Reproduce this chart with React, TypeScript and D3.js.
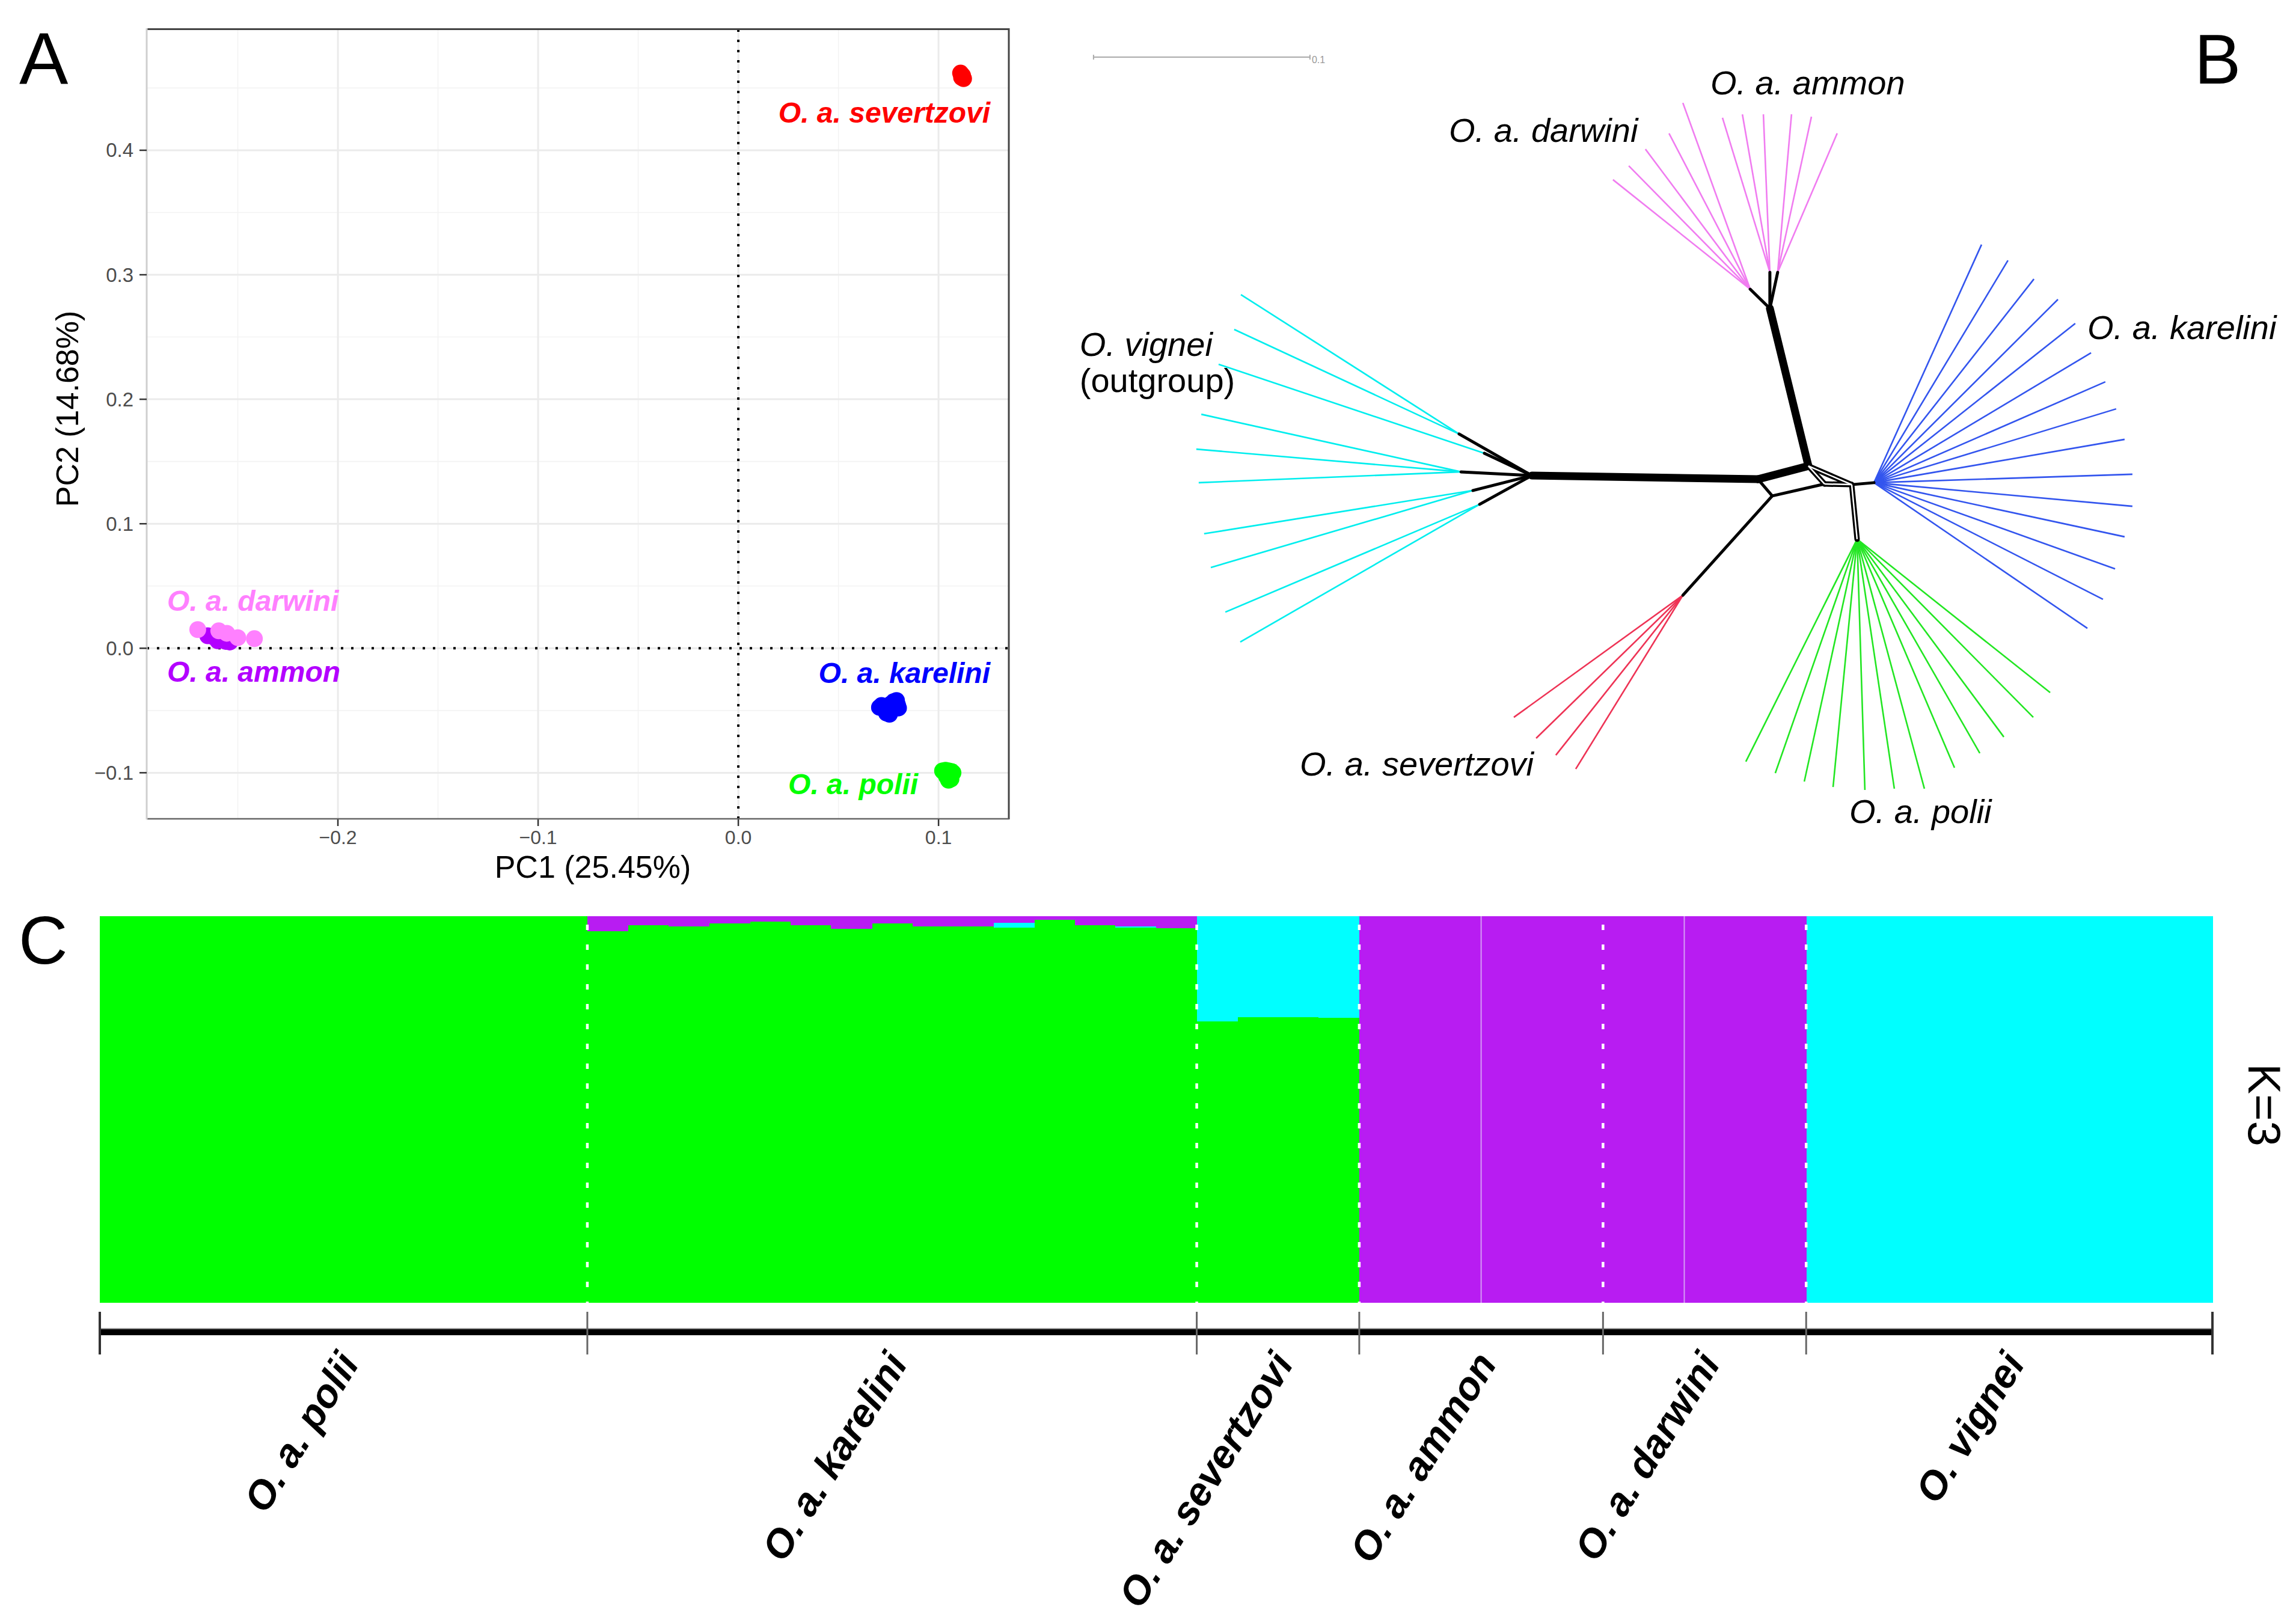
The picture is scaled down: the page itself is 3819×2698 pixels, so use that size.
import React from 'react';
import * as d3 from 'd3';

const W = 3819;
const H = 2698;
const SANS = '"Liberation Sans", Arial, Helvetica, sans-serif';

// ---------- Panel A: PCA ----------
const pc1Ticks = [-0.2, -0.1, 0.0, 0.1];
const pc2Ticks = [-0.1, 0.0, 0.1, 0.2, 0.3, 0.4];
const pc1Minor = [-0.25, -0.15, -0.05, 0.05];
const pc2Minor = [-0.05, 0.05, 0.15, 0.25, 0.35, 0.45];

const severtzoviPCA = [[0.1110, 0.4620], [0.1120, 0.4600], [0.1125, 0.4575], [0.1115, 0.4585]];
const kareliniPCA = [
  [0.0705, -0.0475], [0.0715, -0.0460], [0.0730, -0.0490], [0.0745, -0.0470], [0.0750, -0.0505],
  [0.0760, -0.0450], [0.0765, -0.0485], [0.0775, -0.0430], [0.0780, -0.0465], [0.0790, -0.0420],
  [0.0795, -0.0455], [0.0800, -0.0480], [0.0740, -0.0520], [0.0755, -0.0530], [0.0785, -0.0440],
];
const poliiPCA = [
  [0.1020, -0.0985], [0.1035, -0.0980], [0.1050, -0.0985], [0.1065, -0.0990], [0.1072, -0.1000],
  [0.1030, -0.1000], [0.1045, -0.1005], [0.1060, -0.1010], [0.1040, -0.1030], [0.1055, -0.1040],
  [0.1050, -0.1060], [0.1062, -0.1050],
];
const ammonPCA = [[-0.265, 0.0100], [-0.262, 0.0090], [-0.259, 0.0070], [-0.256, 0.0055], [-0.254, 0.0050], [-0.260, 0.0060]];
const darwiniPCA = [[-0.2595, 0.0140], [-0.2555, 0.0120], [-0.2417, 0.0077], [-0.2500, 0.0085], [-0.2700, 0.0150]];

const pcaColors: Record<string, string> = {
  severtzovi: '#FF0000',
  karelini: '#0000FF',
  polii: '#00FF00',
  ammon: '#B300FF',
  darwini: '#FF80FF',
};

// label anchor in PC units
const pcaLabels = [
  { key: 'severtzovi', text: 'O. a. severtzovi', pc1: 0.1258, pc2: 0.4222, anchor: 'end' },
  { key: 'karelini', text: 'O. a. karelini', pc1: 0.1258, pc2: -0.0280, anchor: 'end' },
  { key: 'polii', text: 'O. a. polii', pc1: 0.0898, pc2: -0.1174, anchor: 'end' },
  { key: 'darwini', text: 'O. a. darwini', pc1: -0.2853, pc2: 0.0300, anchor: 'start' },
  { key: 'ammon', text: 'O. a. ammon', pc1: -0.2853, pc2: -0.0270, anchor: 'start' },
];

// ---------- Panel B: splits network (tree units, 0.1 = scale bar) ----------
const netNodes: [string, number, number][] = [
  ['VH', -0.1367, -0.0025], ['B', -0.0322, -0.0008], ['C', -0.0089, -0.0069],
  ['D', -0.0256, 0.0069], ['E', -0.0014, 0.0014], ['F', 0.0111, 0.0017],
  ['H', 0.0214, 0.0008], ['I', 0.0136, 0.0269], ['J', -0.0669, 0.0528],
  ['K', -0.0267, -0.0797], ['DH', -0.0358, -0.0886], ['AH1', -0.0267, -0.0964], ['AH2', -0.0231, -0.0964],
  ['V1', -0.1703, -0.0217], ['V2', -0.1586, -0.0128], ['V3', -0.1694, -0.0042],
  ['V4', -0.1639, 0.0044], ['V5', -0.1608, 0.0108],
];
const thickEdges = [['VH', 'B'], ['B', 'C'], ['C', 'K']];
const singleEdges = [
  ['B', 'D'], ['D', 'E'], ['F', 'H'], ['D', 'J'], ['K', 'DH'], ['K', 'AH1'], ['K', 'AH2'],
  ['VH', 'V1'], ['VH', 'V2'], ['VH', 'V3'], ['VH', 'V4'], ['VH', 'V5'],
];
const doubleEdges = [['C', 'E'], ['C', 'F'], ['E', 'F'], ['F', 'I']];

const vigneiTips: [string, number, number][] = [
  ['V1', -0.2711, -0.0861], ['V1', -0.2742, -0.0700], ['V2', -0.2814, -0.0539],
  ['V3', -0.2894, -0.0308], ['V3', -0.2917, -0.0147], ['V3', -0.2906, 0.0008],
  ['V4', -0.2881, 0.0244], ['V4', -0.2850, 0.0400], ['V5', -0.2783, 0.0606], ['V5', -0.2714, 0.0744],
];
const darwiniTips: [string, number, number][] = [
  ['DH', -0.0992, -0.1392], ['DH', -0.0919, -0.1456], ['DH', -0.0842, -0.1533],
  ['DH', -0.0733, -0.1606], ['DH', -0.0669, -0.1747],
];
const ammonTips: [string, number, number][] = [
  ['AH1', -0.0486, -0.1678], ['AH1', -0.0394, -0.1694], ['AH1', -0.0297, -0.1694],
  ['AH2', -0.0167, -0.1694], ['AH2', -0.0075, -0.1683], ['AH2', 0.0044, -0.1606],
];
const kareliniTips: [string, number, number][] = [
  ['H', 0.0711, -0.1092], ['H', 0.0833, -0.1019], ['H', 0.0953, -0.0933], ['H', 0.1064, -0.0839],
  ['H', 0.1144, -0.0728], ['H', 0.1217, -0.0592], ['H', 0.1283, -0.0458], ['H', 0.1333, -0.0333],
  ['H', 0.1372, -0.0192], ['H', 0.1408, -0.0031], ['H', 0.1408, 0.0117], ['H', 0.1372, 0.0258],
  ['H', 0.1328, 0.0406], ['H', 0.1272, 0.0547], ['H', 0.1200, 0.0681],
];
const poliiTips: [string, number, number][] = [
  ['I', -0.0378, 0.1297], ['I', -0.0242, 0.1350], ['I', -0.0108, 0.1389], ['I', 0.0025, 0.1414],
  ['I', 0.0172, 0.1428], ['I', 0.0308, 0.1422], ['I', 0.0447, 0.1422], ['I', 0.0586, 0.1325],
  ['I', 0.0703, 0.1258], ['I', 0.0814, 0.1183], ['I', 0.0950, 0.1092], ['I', 0.1028, 0.0978],
];
const severtzoviTips: [string, number, number][] = [
  ['J', -0.1450, 0.1092], ['J', -0.1347, 0.1189], ['J', -0.1256, 0.1267], ['J', -0.1164, 0.1331],
];

const netLabels = [
  { text: 'O. a. ammon', u: -0.0542, v: -0.1786, italic: true },
  { text: 'O. a. darwini', u: -0.1750, v: -0.1567, italic: true },
  { text: 'O. vignei', u: -0.3456, v: -0.0578, italic: true },
  { text: '(outgroup)', u: -0.3456, v: -0.0411, italic: false },
  { text: 'O. a. karelini', u: 0.1200, v: -0.0656, italic: true },
  { text: 'O. a. severtzovi', u: -0.2439, v: 0.1361, italic: true },
  { text: 'O. a. polii', u: 0.0100, v: 0.1581, italic: true },
];
const scaleBar = { u0: -0.3392, length: 0.1, v: -0.1958, label: '0.1' };

// ---------- Panel C: admixture K=3 ----------
const admixGroups = ['O. a. polii', 'O. a. karelini', 'O. a. severtzovi', 'O. a. ammon', 'O. a. darwini', 'O. vignei'];
const admixGroupSizes = [12, 15, 4, 6, 5, 10];
const qGreen = [
  1, 1, 1, 1, 1, 1, 1, 1, 1, 1, 1, 1,
  0.961, 0.977, 0.973, 0.982, 0.986, 0.977, 0.968, 0.982, 0.973, 0.973, 0.970, 0.990, 0.977, 0.971, 0.969,
  0.728, 0.739, 0.739, 0.737,
  0, 0, 0, 0, 0, 0,
  0, 0, 0, 0, 0,
  0, 0, 0, 0, 0, 0, 0, 0, 0, 0,
];
const qCyan = [
  0, 0, 0, 0, 0, 0, 0, 0, 0, 0, 0, 0,
  0, 0, 0, 0, 0, 0, 0, 0, 0, 0, 0.013, 0, 0, 0.003, 0,
  0.272, 0.261, 0.261, 0.263,
  0, 0, 0, 0, 0, 0,
  0, 0, 0, 0, 0,
  1, 1, 1, 1, 1, 1, 1, 1, 1, 1,
];
const qPurple = [
  0, 0, 0, 0, 0, 0, 0, 0, 0, 0, 0, 0,
  0.039, 0.023, 0.027, 0.018, 0.014, 0.023, 0.032, 0.018, 0.027, 0.027, 0.017, 0.010, 0.023, 0.026, 0.031,
  0, 0, 0, 0,
  1, 1, 1, 1, 1, 1,
  1, 1, 1, 1, 1,
  0, 0, 0, 0, 0, 0, 0, 0, 0, 0,
];
const faintSeparators = [34, 39];
const clusterColors: Record<string, string> = { green: '#00FF00', cyan: '#00FFFF', purple: '#B81CF2' };

export default function App() {
  // ---- A scales
  const xA = d3.scaleLinear().domain([-0.2955, 0.1351]).range([244, 1678]);
  const yA = d3.scaleLinear().domain([-0.137, 0.498]).range([1362, 47]);
  const fmt = d3.format('.1f');

  const pcaSets: [string, number[][]][] = [
    ['ammon', ammonPCA], ['darwini', darwiniPCA], ['severtzovi', severtzoviPCA],
    ['karelini', kareliniPCA], ['polii', poliiPCA],
  ];

  // ---- B scales
  const tu = d3.scaleLinear().domain([0, 0.1]).range([3040, 3400]);
  const tv = d3.scaleLinear().domain([0, 0.1]).range([800, 1160]);
  const node = new Map(netNodes.map(([id, u, v]) => [id, [u, v]]));
  const nx = (id: string) => tu(node.get(id)![0]);
  const ny = (id: string) => tv(node.get(id)![1]);
  const tipSets: [string, [string, number, number][]][] = [
    ['#00EEEE', vigneiTips], ['#F07CF0', darwiniTips], ['#F07CF0', ammonTips],
    ['#3355EE', kareliniTips], ['#22E622', poliiTips], ['#EE3355', severtzoviTips],
  ];

  // ---- C scales
  const nSamples = qGreen.length;
  const xC = d3.scaleBand<number>().domain(d3.range(nSamples)).range([166, 3680]).padding(0);
  const yC = d3.scaleLinear().domain([0, 1]).range([2167, 1524]);
  const rows = d3.range(nSamples).map(i => ({ green: qGreen[i], cyan: qCyan[i], purple: qPurple[i] }));
  const stacked = d3.stack<any>().keys(['green', 'cyan', 'purple'])(rows);
  const groupStarts = admixGroupSizes.map((_, i) => d3.sum(admixGroupSizes.slice(0, i)));
  const bw = xC.bandwidth();
  const boundaryX = (idx: number) => (idx >= nSamples ? xC.range()[1] : xC(idx)!);
  const axisY = 2216;

  return (
    <div style={{ position: 'absolute', left: 0, top: 0, width: W, height: H, background: '#fff' }}>
      <svg width={W} height={H} style={{ display: 'block' }} fontFamily={SANS}>
        <rect width={W} height={H} fill="#fff" />

        {/* ===== Panel A ===== */}
        <text x={32} y={140} fontSize={122}>A</text>
        <g>
          {pc1Minor.map(t => <line key={'xm' + t} x1={xA(t)} x2={xA(t)} y1={47} y2={1362} stroke="#F3F3F3" strokeWidth={1.6} />)}
          {pc2Minor.filter(t => t < 0.498).map(t => <line key={'ym' + t} x1={244} x2={1678} y1={yA(t)} y2={yA(t)} stroke="#F3F3F3" strokeWidth={1.6} />)}
          {pc1Ticks.map(t => <line key={'xg' + t} x1={xA(t)} x2={xA(t)} y1={47} y2={1362} stroke="#EBEBEB" strokeWidth={3} />)}
          {pc2Ticks.map(t => <line key={'yg' + t} x1={244} x2={1678} y1={yA(t)} y2={yA(t)} stroke="#EBEBEB" strokeWidth={3} />)}
          <line x1={xA(0)} x2={xA(0)} y1={49} y2={1362} stroke="#000" strokeWidth={4} strokeDasharray="4 13" />
          <line x1={244} x2={1678} y1={yA(0)} y2={yA(0)} stroke="#000" strokeWidth={4} strokeDasharray="4 13" />
          {pcaSets.map(([key, pts]) =>
            pts.map((p, i) => <circle key={key + i} cx={xA(p[0])} cy={yA(p[1])} r={14} fill={pcaColors[key]} />)
          )}
          {pcaLabels.map(l => (
            <text key={l.key} x={xA(l.pc1)} y={yA(l.pc2)} textAnchor={l.anchor as any} fill={pcaColors[l.key]}
              fontSize={48} fontWeight="bold" fontStyle="italic">{l.text}</text>
          ))}
          <line x1={244} x2={1678} y1={48.5} y2={48.5} stroke="#444" strokeWidth={3} />
          <line x1={1678} x2={1678} y1={47} y2={1363} stroke="#444" strokeWidth={3} />
          <line x1={244} x2={1678} y1={1362} y2={1362} stroke="#666" strokeWidth={2.5} />
          <line x1={244} x2={244} y1={47} y2={1363} stroke="#CFCFCF" strokeWidth={3} />
          {pc1Ticks.map(t => (
            <g key={'xt' + t}>
              <line x1={xA(t)} x2={xA(t)} y1={1363} y2={1374} stroke="#333" strokeWidth={2.5} />
              <text x={xA(t)} y={1404} textAnchor="middle" fontSize={32} fill="#4D4D4D">{fmt(t)}</text>
            </g>
          ))}
          {pc2Ticks.map(t => (
            <g key={'yt' + t}>
              <line x1={232} x2={244} y1={yA(t)} y2={yA(t)} stroke="#333" strokeWidth={2.5} />
              <text x={222} y={yA(t)} dy="0.35em" textAnchor="end" fontSize={33} fill="#4D4D4D">{fmt(t)}</text>
            </g>
          ))}
          <text x={986} y={1460} textAnchor="middle" fontSize={52}>PC1 (25.45%)</text>
          <text transform="translate(130,680) rotate(-90)" textAnchor="middle" fontSize={52}>PC2 (14.68%)</text>
        </g>

        {/* ===== Panel B ===== */}
        <text x={3650} y={139} fontSize={116}>B</text>
        <g>
          <line x1={tu(scaleBar.u0)} x2={tu(scaleBar.u0 + scaleBar.length)} y1={tv(scaleBar.v)} y2={tv(scaleBar.v)} stroke="#AAA" strokeWidth={2} />
          <line x1={tu(scaleBar.u0)} x2={tu(scaleBar.u0)} y1={tv(scaleBar.v) - 4} y2={tv(scaleBar.v) + 4} stroke="#AAA" strokeWidth={2} />
          <line x1={tu(scaleBar.u0 + scaleBar.length)} x2={tu(scaleBar.u0 + scaleBar.length)} y1={tv(scaleBar.v) - 4} y2={tv(scaleBar.v) + 4} stroke="#AAA" strokeWidth={2} />
          <text x={tu(scaleBar.u0 + scaleBar.length) + 3} y={tv(scaleBar.v) + 10} fontSize={16} fill="#999">{scaleBar.label}</text>

          {tipSets.map(([color, tips], si) =>
            tips.map(([hub, u, v], i) => (
              <line key={si + '-' + i} x1={nx(hub)} y1={ny(hub)} x2={tu(u)} y2={tv(v)} stroke={color} strokeWidth={2.6} />
            ))
          )}
          {thickEdges.map(([a, b]) => (
            <line key={a + b} x1={nx(a)} y1={ny(a)} x2={nx(b)} y2={ny(b)} stroke="#000" strokeWidth={13} strokeLinecap="round" />
          ))}
          {singleEdges.map(([a, b]) => (
            <line key={a + b} x1={nx(a)} y1={ny(a)} x2={nx(b)} y2={ny(b)} stroke="#000" strokeWidth={5} strokeLinecap="round" />
          ))}
          {doubleEdges.map(([a, b]) => (
            <line key={'o' + a + b} x1={nx(a)} y1={ny(a)} x2={nx(b)} y2={ny(b)} stroke="#000" strokeWidth={9} strokeLinecap="round" />
          ))}
          {doubleEdges.map(([a, b]) => (
            <line key={'i' + a + b} x1={nx(a)} y1={ny(a)} x2={nx(b)} y2={ny(b)} stroke="#fff" strokeWidth={2.5} />
          ))}
          {netLabels.map(l => (
            <text key={l.text} x={tu(l.u)} y={tv(l.v)} fontSize={56} fontStyle={l.italic ? 'italic' : 'normal'}>{l.text}</text>
          ))}
        </g>

        {/* ===== Panel C ===== */}
        <text x={31} y={1603} fontSize={113}>C</text>
        <g>
          {stacked.map(layer => (
            <g key={layer.key} fill={clusterColors[layer.key]}>
              {layer.map((d, i) => (
                d[1] - d[0] > 0 ? (
                  <rect key={i} x={xC(i)!} y={yC(d[1])} width={bw + 0.6} height={yC(d[0]) - yC(d[1])} shapeRendering="crispEdges" />
                ) : null
              ))}
            </g>
          ))}
          {faintSeparators.map(i => (
            <line key={'f' + i} x1={xC(i)!} x2={xC(i)!} y1={yC(1)} y2={yC(0)} stroke="#D59AF5" strokeWidth={2} />
          ))}
          {groupStarts.slice(1).map(s => (
            <line key={'sep' + s} x1={boundaryX(s)} x2={boundaryX(s)} y1={yC(1) + 14} y2={yC(0)} stroke="#fff" strokeWidth={4.5} strokeDasharray="9 24" />
          ))}
          <line x1={166} x2={3680} y1={axisY - 6} y2={axisY - 6} stroke="#999" strokeWidth={2} />
          <line x1={166} x2={3680} y1={axisY} y2={axisY} stroke="#000" strokeWidth={10} />
          {[...groupStarts, nSamples].map(s => (
            <line key={'tk' + s} x1={boundaryX(s)} x2={boundaryX(s)} y1={2182} y2={2253}
              stroke={s === 0 || s === nSamples ? '#333' : '#666'} strokeWidth={s === 0 || s === nSamples ? 4 : 3} />
          ))}
          {admixGroups.map((g, i) => {
            const cx = boundaryX(groupStarts[i]) + (admixGroupSizes[i] * bw) / 2;
            return (
              <text key={g} transform={`translate(${cx + 8},2256) rotate(-58)`} textAnchor="end" dy="0.35em"
                fontSize={66} fontWeight="bold" fontStyle="italic">{g}</text>
            );
          })}
          <text transform="translate(3740,1838) rotate(90)" textAnchor="middle" fontSize={76}>K=3</text>
        </g>
      </svg>
    </div>
  );
}
